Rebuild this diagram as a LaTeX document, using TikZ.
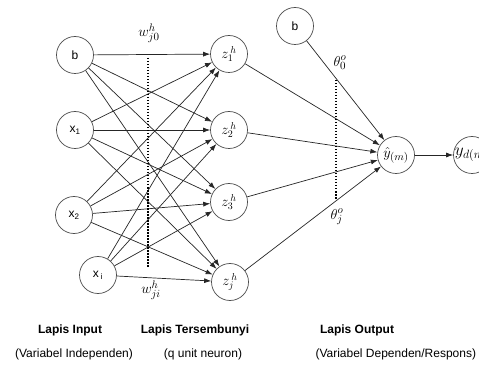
\documentclass[tikz,border=0pt]{standalone}
\usepackage{fontspec}
\setmainfont{Liberation Sans}
\usetikzlibrary{arrows.meta}
\begin{document}
\begin{tikzpicture}[x=1pt,y=-1pt,
  neuron/.style={circle,draw=black!70,line width=0.7pt,minimum size=37pt,inner sep=0pt,font=\fontsize{12}{14}\selectfont},
  conn/.style={draw=black!85,line width=0.7pt,-{Latex[length=7pt,width=5pt]}},
  sep/.style={line width=2.6pt,dash pattern=on 1.5pt off 1.5pt},
  lbl/.style={font=\fontsize{12}{14}\selectfont\bfseries},
  sub/.style={font=\fontsize{12}{14}\selectfont},
  wl/.style={font=\fontsize{15}{17}\selectfont}]
\clip (0,0) rectangle (479,366);
\fill[white] (0,0) rectangle (479,366);
% input layer
\node[neuron] (b1) at (75,55) {b};
\node[neuron] (x1) at (75,130) {x\textsubscript{1}};
\node[neuron] (x2) at (74,215) {x\textsubscript{2}};
\node[neuron] (xi) at (98,275) {x\,\textsubscript{i}};
% hidden layer
\node[neuron,font=\fontsize{14}{16}\selectfont] (z1) at (229,54) {$z_{1}^{\,h}$};
\node[neuron,font=\fontsize{14}{16}\selectfont] (z2) at (229,130) {$z_{2}^{\,h}$};
\node[neuron,font=\fontsize{14}{16}\selectfont] (z3) at (229,202) {$z_{3}^{\,h}$};
\node[neuron,font=\fontsize{14}{16}\selectfont] (zj) at (230,282) {$z_{j}^{\,h}$};
% output layer
\node[neuron] (b2) at (295,26) {b};
\node[neuron,font=\fontsize{15}{17}\selectfont] (yh) at (396,155) {$\hat{y}_{(m)}$};
\node[neuron,font=\fontsize{18}{20}\selectfont] (yd) at (472,155) {$y_{d(m)}$};
% connections input -> hidden
\foreach \i in {b1,x1,x2,xi}{
  \foreach \h in {z1,z2,z3,zj}{
    \draw[conn] (\i) -- (\h);
  }
}
% hidden -> output
\foreach \h in {z1,z2,z3,zj}{
  \draw[conn] (\h) -- (yh);
}
\draw[conn] (b2) -- (yh);
\draw[conn] (yh) -- (yd);
% separators
\coordinate (d1a) at (148,58);
\coordinate (d1b) at (148,267);
\draw[sep] (d1a) -- (d1b);
\coordinate (d2a) at (336,80);
\coordinate (d2b) at (336,200);
\draw[sep] (d2a) -- (d2b);
% weight labels
\node[wl] (w0) at (149,33) {$w_{j0}^{h}$};
\node[wl] (wi) at (151,290) {$w_{ji}^{h}$};
\node[wl] (t0) at (340,63) {$\theta_{0}^{o}$};
\node[wl] (tj) at (337,217) {$\theta_{j}^{o}$};
% layer labels
\node[lbl] (l1) at (70,330) {Lapis Input};
\node[lbl] (l2) at (195,330) {Lapis Tersembunyi};
\node[lbl] (l3) at (357,330) {Lapis Output};
\node[sub] (s1) at (74,354) {(Variabel Independen)};
\node[sub] (s2) at (203,354) {(q unit neuron)};
\node[sub,anchor=west] (s3) at (312,354) {(Variabel Dependen/Respons)};
\end{tikzpicture}
\end{document}
